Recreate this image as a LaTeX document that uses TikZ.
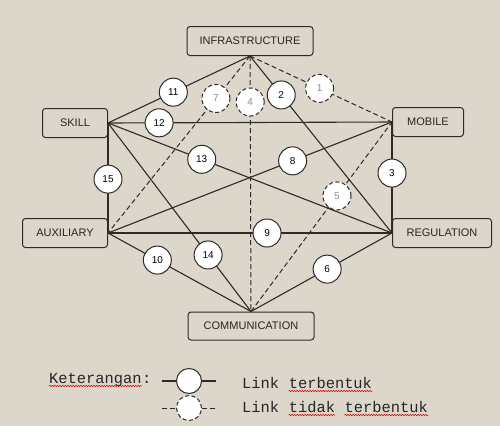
\documentclass[tikz,border=0pt]{standalone}
\usepackage{fontspec}
\setmainfont{Liberation Sans}
\newfontfamily\legendfont{Liberation Mono}
\usetikzlibrary{positioning,decorations.pathmorphing}
\definecolor{paper}{RGB}{221,214,203}
\definecolor{ink}{RGB}{45,42,40}

\begin{document}
\begin{tikzpicture}[x=1pt,y=-1pt,
	box/.style={draw=ink,line width=1pt,rounded corners=3pt,minimum height=29pt,inner sep=0pt,font=\fontsize{11}{13}\selectfont,text=black!85},
	linkline/.style={draw=ink,line width=1.1pt},
	nolinkline/.style={draw=ink,line width=1pt,dash pattern=on 5pt off 3pt},
	linkcirc/.style={circle,draw=ink,fill=white,solid,line width=1pt,minimum size=28pt,inner sep=0pt,font=\fontsize{10}{12}\selectfont,text=black,pos=#1},
	nolinkcirc/.style={linkcirc=#1,dash pattern=on 4pt off 2.5pt,text=black!45},
	legend/.style={anchor=base west,inner sep=0pt,font=\legendfont\fontsize{15.4}{18}\selectfont,text=black!85},
	squig/.style={draw=red!80!black,line width=0.5pt,decorate,decoration={snake,amplitude=0.7pt,segment length=2.6pt}}]

\fill[paper] (0,0) rectangle (500,426);
\useasboundingbox (0,0) rectangle (500,426);

\node	[box,minimum width=126pt]	(infra)		at (250,41)		{INFRASTRUCTURE};
\node	[box,minimum width=65pt]	(skill)		at (75,123)		{SKILL};
\node	[box,minimum width=71pt]	(mobile)	at (428,122)	{MOBILE};
\node	[box,minimum width=85pt]	(aux)		at (65,233)		{AUXILIARY};
\node	[box,minimum width=99pt]	(reg)		at (442,233)	{REGULATION};
\node	[box,minimum width=126pt,minimum height=28pt]	(comm)	at (251,326)	{COMMUNICATION};

% links
\path
	(infra.south)	edge	[nolinkline]	node	[nolinkcirc=.49]	{1}		(mobile.west)
	(infra.south)	edge	[nolinkline]	node	[nolinkcirc=.24]	{7}		(aux.east)
	(infra.south)	edge	[nolinkline]	node	[nolinkcirc=.18]	{4}		(comm.north)
	(comm.north)	edge	[nolinkline]	node	[nolinkcirc=.61]	{5}		(mobile.west)
	(skill.east)	edge	[linkline]		node	[linkcirc=.46]		{11}	(infra.south)
	(infra.south)	edge	[linkline]		node	[linkcirc=.22]		{2}		(reg.west)
	(skill.east)	edge	[linkline]		node	[linkcirc=.18]		{12}	(mobile.west)
	(skill.east)	edge	[linkline]		node	[linkcirc=.33]		{13}	(reg.west)
	(skill.east)	edge	[linkline]		node	[linkcirc=.70]		{14}	(comm.north)
	(skill.east)	edge	[linkline]		node	[linkcirc=.51]		{15}	(aux.east)
	(aux.east)		edge	[linkline]		node	[linkcirc=.65]		{8}		(mobile.west)
	(aux.east)		edge	[linkline]		node	[linkcirc=.56]		{9}		(reg.west)
	(aux.east)		edge	[linkline]		node	[linkcirc=.345]		{10}	(comm.north)
	(mobile.west)	edge	[linkline]		node	[linkcirc=.46]		{3}		(reg.west)
	(comm.north)	edge	[linkline]		node	[linkcirc=.54]		{6}		(reg.west)
;

% legend
\node	[legend]	(ket)	at (49,383)	{Keterangan};
\node	[legend]	(colon)	[right=0pt of ket.base east,anchor=base west]	{:};
\coordinate	(l1w)	at (162,381);
\coordinate	(l1e)	at (216,381);
\coordinate	(l2w)	at (162,408);
\coordinate	(l2e)	at (216,408);
\path
	(l1w)	edge	[linkline]		node	[linkcirc=.5,minimum size=25pt]		{}	(l1e)
	(l2w)	edge	[nolinkline]	node	[nolinkcirc=.5,minimum size=25pt]	{}	(l2e)
;
\node	[legend]	(lk1)	at (242,388)	{Link};
\node	[legend]	(tb1)	[right=9.24pt of lk1.base east,anchor=base west]	{terbentuk};
\node	[legend]	(lk2)	at (242,412)	{Link};
\node	[legend]	(td2)	[right=9.24pt of lk2.base east,anchor=base west]	{tidak};
\node	[legend]	(tb2)	[right=9.24pt of td2.base east,anchor=base west]	{terbentuk};

\draw[squig]	([yshift=-3pt]ket.base west)	--	([yshift=-3pt]ket.base east);
\draw[squig]	([yshift=-3pt]tb1.base west)	--	([yshift=-3pt]tb1.base east);
\draw[squig]	([yshift=-3pt]td2.base west)	--	([yshift=-3pt]td2.base east);
\draw[squig]	([yshift=-3pt]tb2.base west)	--	([yshift=-3pt]tb2.base east);
\end{tikzpicture}
\end{document}
